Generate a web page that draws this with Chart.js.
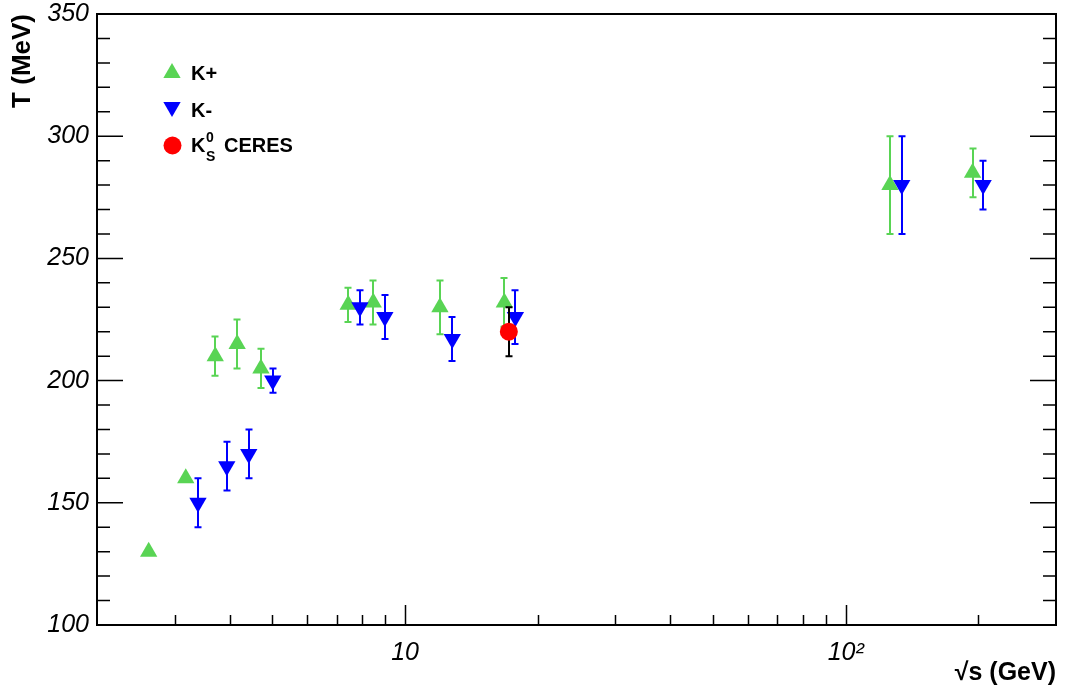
<!DOCTYPE html>
<html>
<head>
<meta charset="utf-8">
<script src="https://cdn.jsdelivr.net/npm/chart.js@4.4.0/dist/chart.umd.min.js"></script>
<style>
body { margin: 0; background: #fff; }
canvas { display: block; }
</style>
</head>
<body>
<canvas id="temperature" width="1066" height="691"></canvas>
<script>
"use strict";

// K+ (green up triangles)
var kplusSqrtS = [2.62, 3.18, 3.71, 4.16, 4.71, 7.43, 8.47, 12.0, 16.8, 126, 194];
var kplusT     = [130, 160, 210, 215, 205, 231, 232, 230, 232, 280, 285];
var kplusErr   = [0, 0, 8, 10, 8, 7, 9, 11, 10, 20, 10];

// K- (blue down triangles)
var kminusSqrtS = [3.39, 3.94, 4.42, 5.01, 7.9, 9.0, 12.8, 17.8, 134, 205];
var kminusT     = [150, 165, 170, 200, 230, 226, 217, 226, 280, 280];
var kminusErr   = [10, 10, 10, 5, 7, 9, 9, 11, 20, 10];

// K0s CERES
var ceresSqrtS = [17.2];
var ceresT     = [220];
var ceresErr   = [10];

var xTickValues = [10, 100];
var xTickLabels = ['10', '10\u00b2'];
var yTickValues = [100, 150, 200, 250, 300, 350];

var vert = '#59d454';
var bleu = '#0000ff';
var rouge = '#ff0000';
var police = '"Liberation Sans", Arial, Helvetica, sans-serif';

function points(xs, ys) {
    var out = [];
    for (var i = 0; i < xs.length; i++) {
        out.push({x: xs[i], y: ys[i]});
    }
    return out;
}

function drawMarker(ctx, forme, x, y, r, couleur) {
    ctx.fillStyle = couleur;
    ctx.beginPath();
    if (forme === 'circle') {
        ctx.arc(x, y, r, 0, Math.PI * 2);
    } else {
        var d = forme === 'up' ? 1 : -1;
        ctx.moveTo(x, y - d * r);
        ctx.lineTo(x + r * 0.866, y + d * r / 2);
        ctx.lineTo(x - r * 0.866, y + d * r / 2);
        ctx.closePath();
    }
    ctx.fill();
}

// pas de padding auto des axes, le cadre est fixe
function noScalePadding(scale) {
    scale.paddingTop = 0;
    scale.paddingBottom = 0;
    scale.paddingLeft = 0;
    scale.paddingRight = 0;
}

// error bars, drawn just before each dataset's markers
var errorBars = {
    id: 'errorBars',
    beforeDatasetDraw: function (chart, args) {
        var ds = chart.data.datasets[args.index];
        if (!ds.errors) return;
        var yScale = chart.scales.y;
        var ctx = chart.ctx;
        ctx.save();
        ctx.strokeStyle = ds.errorColor;
        ctx.lineWidth = 2;
        args.meta.data.forEach(function (pt, i) {
            var e = ds.errors[i];
            if (!e) return;
            var px = Math.round(pt.x);
            var y1 = yScale.getPixelForValue(ds.data[i].y + e);
            var y2 = yScale.getPixelForValue(ds.data[i].y - e);
            ctx.beginPath();
            ctx.moveTo(px, y1); ctx.lineTo(px, y2);
            ctx.moveTo(px - 3.5, y1); ctx.lineTo(px + 3.5, y1);
            ctx.moveTo(px - 3.5, y2); ctx.lineTo(px + 3.5, y2);
            ctx.stroke();
        });
        ctx.restore();
    }
};

// frame + inward tick marks (ROOT style)
var frameTicks = {
    id: 'frameTicks',
    beforeDatasetsDraw: function (chart) {
        var ctx = chart.ctx, a = chart.chartArea;
        var xs = chart.scales.x, ys = chart.scales.y;
        ctx.save();
        ctx.strokeStyle = '#000';
        ctx.lineWidth = 1.5;
        ctx.beginPath();
        for (var v = ys.min; v <= ys.max; v += 10) {
            var py = ys.getPixelForValue(v);
            var len = (v % 50 === 0) ? 26 : 13;
            ctx.moveTo(a.left, py); ctx.lineTo(a.left + len, py);
            ctx.moveTo(a.right, py); ctx.lineTo(a.right - len, py);
        }
        for (var dec = 1; dec <= 100; dec *= 10) {
            for (var k = 1; k <= 9; k++) {
                var val = k * dec;
                if (val <= xs.min || val >= xs.max) continue;
                var px = Math.round(xs.getPixelForValue(val)) + 0.5;
                var l = (k === 1) ? 20 : 10;
                ctx.moveTo(px, a.bottom); ctx.lineTo(px, a.bottom - l);
            }
        }
        ctx.stroke();
        ctx.lineWidth = 2;
        ctx.strokeRect(a.left, a.top, a.right - a.left, a.bottom - a.top);
        ctx.restore();
    }
};

// legend in the top-left corner of the frame
var legendBox = {
    id: 'legendBox',
    afterDraw: function (chart) {
        var ctx = chart.ctx;
        ctx.save();
        drawMarker(ctx, 'up', 172, 73, 10, vert);
        drawMarker(ctx, 'down', 172, 107, 10, bleu);
        drawMarker(ctx, 'circle', 172.5, 145.5, 9, rouge);
        ctx.fillStyle = '#000';
        ctx.textBaseline = 'alphabetic';
        ctx.textAlign = 'left';
        ctx.font = 'bold 20px ' + police;
        ctx.fillText('K+', 191, 80);
        ctx.fillText('K-', 191, 117);
        ctx.fillText('K', 191, 152);
        ctx.fillText('CERES', 224, 152);
        ctx.font = 'bold 14px ' + police;
        ctx.fillText('0', 206, 142);
        ctx.fillText('S', 206, 161);
        ctx.restore();
    }
};

new Chart(document.getElementById('temperature').getContext('2d'), {
    type: 'scatter',
    data: {
        datasets: [{
            label: 'K+',
            data: points(kplusSqrtS, kplusT),
            errors: kplusErr,
            errorColor: vert,
            pointStyle: 'triangle',
            pointRadius: 10,
            pointBorderWidth: 0,
            pointBackgroundColor: vert,
            pointBorderColor: vert,
            order: 3
        }, {
            label: 'K-',
            data: points(kminusSqrtS, kminusT),
            errors: kminusErr,
            errorColor: bleu,
            pointStyle: 'triangle',
            pointRotation: 180,
            pointRadius: 10,
            pointBorderWidth: 0,
            pointBackgroundColor: bleu,
            pointBorderColor: bleu,
            order: 2
        }, {
            label: 'K0s CERES',
            data: points(ceresSqrtS, ceresT),
            errors: ceresErr,
            errorColor: '#000',
            pointStyle: 'circle',
            pointRadius: 9,
            pointBorderWidth: 0,
            pointBackgroundColor: rouge,
            pointBorderColor: rouge,
            order: 1
        }]
    },
    options: {
        responsive: false,
        animation: false,
        devicePixelRatio: 1,
        layout: { padding: { top: 14, right: 6, bottom: 0, left: 0 } },
        plugins: {
            legend: { display: false },
            tooltip: { enabled: false }
        },
        scales: {
            x: {
                type: 'logarithmic',
                position: 'bottom',
                min: 2,
                max: 300,
                grid: { display: false, drawTicks: false },
                border: { display: false },
                afterBuildTicks: function (scale) {
                    scale.ticks = xTickValues.map(function (v) { return {value: v}; });
                },
                ticks: {
                    autoSkip: false,
                    maxRotation: 0,
                    padding: 13,
                    color: '#000',
                    font: { family: police, size: 25, style: 'italic' },
                    callback: function (v, i) { return xTickLabels[i]; }
                },
                title: {
                    display: true,
                    text: '\u221As (GeV)',
                    align: 'end',
                    color: '#000',
                    font: { family: police, size: 25, weight: 'bold' },
                    padding: { top: 0, bottom: 3 }
                },
                afterFit: function (scale) {
                    scale.height = 66;
                    noScalePadding(scale);
                }
            },
            y: {
                min: 100,
                max: 350,
                grid: { display: false, drawTicks: false },
                border: { display: false },
                afterBuildTicks: function (scale) {
                    scale.ticks = yTickValues.map(function (v) { return {value: v}; });
                },
                ticks: {
                    autoSkip: false,
                    padding: 8,
                    color: '#000',
                    font: { family: police, size: 25, style: 'italic', lineHeight: 1 },
                    callback: function (v) { return String(v); }
                },
                title: {
                    display: true,
                    text: 'T (MeV)',
                    align: 'end',
                    color: '#000',
                    font: { family: police, size: 26, weight: 'bold' },
                    padding: { top: 7, bottom: 0 }
                },
                afterFit: function (scale) {
                    scale.width = 97;
                    noScalePadding(scale);
                }
            }
        }
    },
    plugins: [frameTicks, errorBars, legendBox]
});
</script>
</body>
</html>
